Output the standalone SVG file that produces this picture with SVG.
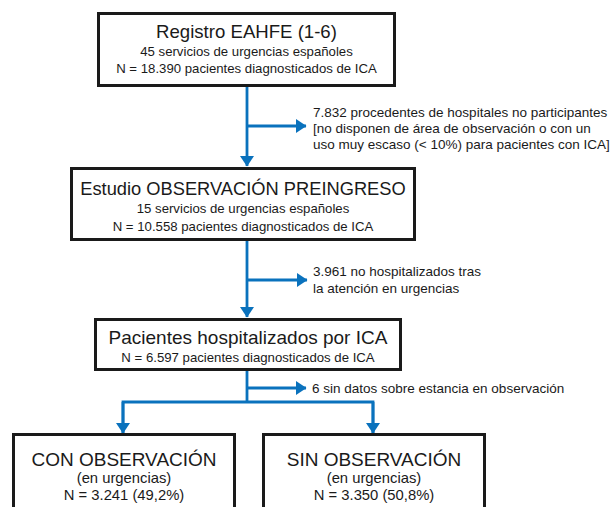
<svg xmlns="http://www.w3.org/2000/svg" width="613" height="507" viewBox="0 0 613 507">
  <style>
    .box { fill: #ffffff; stroke: #1a1a1a; stroke-width: 3; }
    .t { font-family: "Liberation Sans", Arial, sans-serif; fill: #1a1a1a; text-anchor: middle; }
    .title { font-size: 18.7px; }
    .sub { font-size: 13.2px; }
    .sub2 { font-size: 14.8px; }
    .side { font-family: "Liberation Sans", Arial, sans-serif; fill: #1a1a1a; font-size: 13.5px; }
    .conn { fill: none; stroke: #0a72bd; stroke-width: 2.8; }
    .arr { fill: none; stroke: #0a72bd; stroke-width: 2.8; marker-end: url(#ah); }
  </style>
  <defs>
    <marker id="ah" markerUnits="userSpaceOnUse" markerWidth="11" markerHeight="14" refX="10" refY="7" orient="auto">
      <path d="M0,0 L10.5,7 L0,14 z" fill="#0a72bd"/>
    </marker>
  </defs>
  <rect width="613" height="507" fill="#ffffff"/>

  <g id="connectors">
    <line class="arr" x1="247" y1="87" x2="247" y2="166"/>
    <line class="arr" x1="247" y1="126" x2="306" y2="126"/>
    <line class="arr" x1="247" y1="241" x2="247" y2="317"/>
    <line class="arr" x1="247" y1="280" x2="307" y2="280"/>
    <line class="conn" x1="247" y1="371" x2="247" y2="402"/>
    <line class="arr" x1="247" y1="388" x2="306" y2="388"/>
    <polyline class="conn" points="123,433 123,402 373,402 373,433" style="stroke-linejoin:miter"/>
    <line class="arr" x1="123" y1="402" x2="123" y2="433"/>
    <line class="arr" x1="373" y1="402" x2="373" y2="433"/>
  </g>

  <g id="registro">
    <rect class="box" x="98.5" y="13.5" width="296" height="72"/>
    <text class="t" x="246.5" y="38" style="font-size:18.6px">Registro EAHFE (1-6)</text>
    <text class="t sub" x="246.5" y="56">45 servicios de urgencias españoles</text>
    <text class="t sub" x="246.5" y="73">N = 18.390 pacientes diagnosticados de ICA</text>
  </g>

  <g id="excl1">
    <text class="side" x="313" y="117">7.832 procedentes de hospitales no participantes</text>
    <text class="side" x="313" y="133">[no disponen de área de observación o con un</text>
    <text class="side" x="313" y="149">uso muy escaso (&lt; 10%) para pacientes con ICA]</text>
  </g>

  <g id="estudio">
    <rect class="box" x="71.5" y="168.5" width="343" height="71"/>
    <text class="t" x="243" y="195" style="font-size:18.3px">Estudio OBSERVACIÓN PREINGRESO</text>
    <text class="t sub" x="243" y="213">15 servicios de urgencias españoles</text>
    <text class="t sub" x="243" y="231">N = 10.558 pacientes diagnosticados de ICA</text>
  </g>

  <g id="excl2">
    <text class="side" x="313" y="276">3.961 no hospitalizados tras</text>
    <text class="side" x="313" y="293">la atención en urgencias</text>
  </g>

  <g id="hospitalizados">
    <rect class="box" x="95.5" y="319.5" width="305" height="50"/>
    <text class="t" x="248" y="344" style="font-size:19px">Pacientes hospitalizados por ICA</text>
    <text class="t sub" x="248" y="362">N = 6.597 pacientes diagnosticados de ICA</text>
  </g>

  <g id="excl3">
    <text class="side" x="312" y="393">6 sin datos sobre estancia en observación</text>
  </g>

  <g id="con">
    <rect class="box" x="13.5" y="434.5" width="221" height="100"/>
    <text class="t" x="124" y="466" style="font-size:19px">CON OBSERVACIÓN</text>
    <text class="t sub2" x="124" y="483">(en urgencias)</text>
    <text class="t sub2" x="124" y="500">N = 3.241 (49,2%)</text>
  </g>

  <g id="sin">
    <rect class="box" x="263.5" y="434.5" width="221" height="100"/>
    <text class="t" x="374" y="466" style="font-size:19px">SIN OBSERVACIÓN</text>
    <text class="t sub2" x="374" y="483">(en urgencias)</text>
    <text class="t sub2" x="374" y="500">N = 3.350 (50,8%)</text>
  </g>
</svg>
